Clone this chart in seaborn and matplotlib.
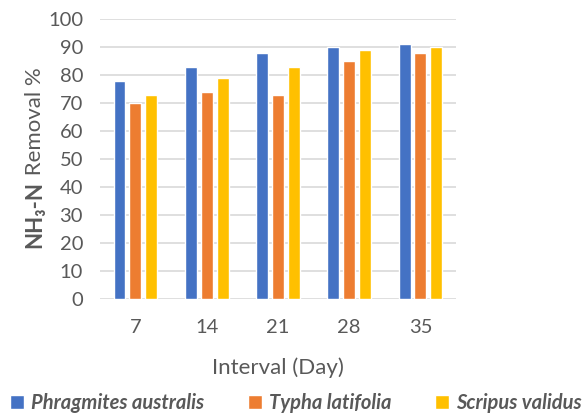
import matplotlib
matplotlib.use("Agg")
import matplotlib.pyplot as plt
import seaborn as sns
import pandas as pd

days = ["7", "14", "21", "28", "35"]
species = ["Phragmites australis", "Typha latifolia", "Scripus validus"]
phragmites = [78, 83, 88, 90, 91]
typha = [70, 74, 73, 85, 88]
scripus = [73, 79, 83, 89, 90]
colors = ["#4472C4", "#ED7D31", "#FFC000"]

rows = []
for sp, vals in zip(species, [phragmites, typha, scripus]):
    for d, v in zip(days, vals):
        rows.append({"Day": d, "Species": sp, "Value": v})
df = pd.DataFrame(rows)

sns.set_theme(style="white")
plt.rcParams["font.family"] = ["Lato", "DejaVu Sans"]

fig = plt.figure(figsize=(5.87, 4.16), dpi=100)
ax = fig.add_axes([0.170, 0.281, 0.607, 0.673])

sns.barplot(data=df, x="Day", y="Value", hue="Species", order=days,
            hue_order=species, palette=colors, width=0.67, gap=0.25,
            saturation=1, ax=ax, legend=True, errorbar=None)

ax.set_ylim(0, 100)
ax.set_yticks(range(0, 101, 10))
ax.grid(axis="y", color="#D9D9D9", linewidth=1.2)
ax.set_axisbelow(True)
for s in ["top", "right", "left", "bottom"]:
    ax.spines[s].set_visible(False)
ax.tick_params(axis="both", length=0, labelsize=14.5, colors="#595959")
ax.tick_params(axis="y", pad=12)
ax.tick_params(axis="x", pad=14)
ax.set_xlabel("Interval (Day)", fontsize=16, color="#595959", labelpad=16)
ax.set_ylabel("")

t1 = fig.text(35 / 587, (416 - 248) / 416, "NH\u2083-N", rotation=90, ha="center",
              va="bottom", fontsize=16, fontweight="bold", color="#595959")
ax.annotate(" Removal %", xy=(0.5, 1.0), xycoords=t1, ha="center", va="bottom",
            rotation=90, fontsize=16, color="#595959", annotation_clip=False)

handles, labels = ax.get_legend_handles_labels()
ax.get_legend().remove()
fig.legend(handles, labels, loc="center", bbox_to_anchor=(0.504, 0.031), ncol=3,
           frameon=False, handlelength=0.7, handleheight=0.7, handletextpad=0.35,
           columnspacing=2.15, prop={"weight": "bold", "style": "italic", "size": 14.5},
           labelcolor="#595959")

fig.savefig("out.png", dpi=100)
